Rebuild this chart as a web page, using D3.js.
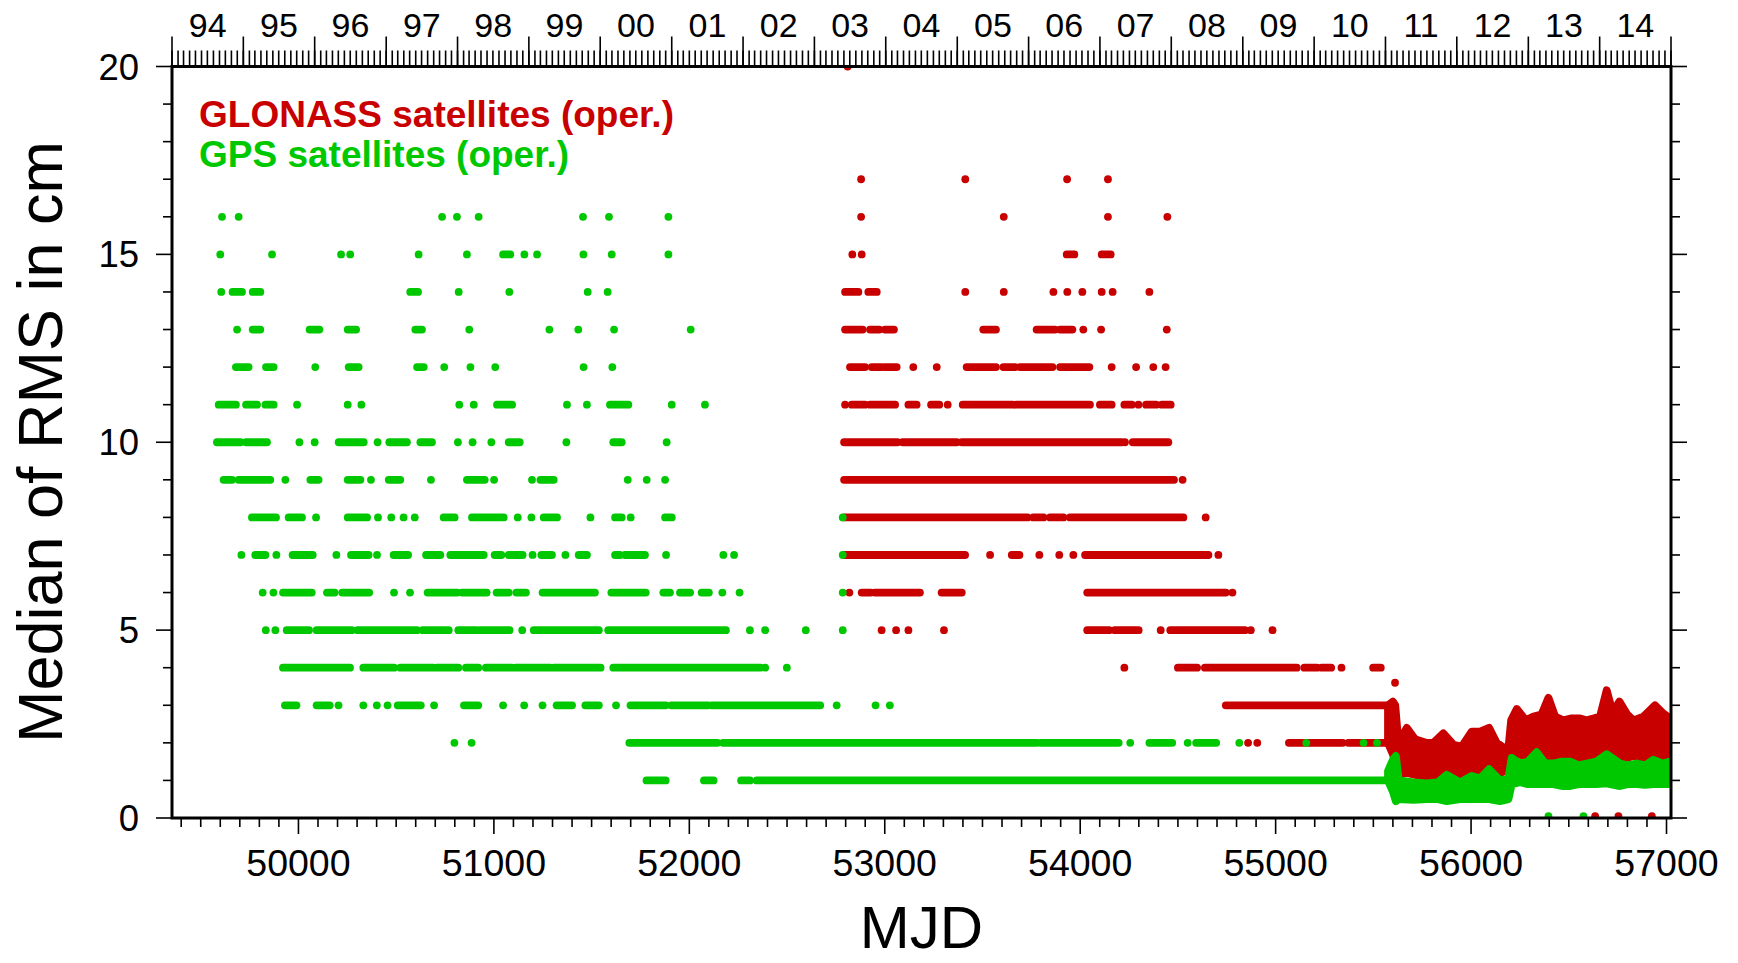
<!DOCTYPE html>
<html>
<head>
<meta charset="utf-8">
<script src="https://cdn.jsdelivr.net/npm/d3@7"></script>
<style>
body { margin: 0; background: #fff; }
text { font-family: "Liberation Sans", Arial, Helvetica, sans-serif; }
</style>
</head>
<body>
<script>
// median RMS levels (cm) and the MJDs where a dot sits; [a,b] = run of daily dots
const gpsLevels = [16, 15, 14, 13, 12, 11, 10, 9, 8, 7, 6, 5, 4, 3, 2, 1]
const gpsMjd = [
  [49609, 49694, 50735, 50811, 50922, 51456, 51589, 51893],
  [49600, 49865, 50218, 50265, 50615, 50862, [51047, 51084], 51156, 51221, 51458, 51603, 51893],
  [49605, [49663, 49711], [49766, 49805], [50572, 50612], 50820, 51079, 51480, 51582],
  [49686, [49766, 49805], [50057, 50107], [50252, 50295], [50598, 50632], 50874, 51284, 51432, 51615, 52007],
  [[49680, 49745], [49834, 49873], 50086, [50257, 50308], [50607, 50641], 50746, 50880, 51007, 51459, 51606],
  [[49592, 49680], [49732, 49788], [49831, 49873], 49993, 50252, 50322, 50823, 50897, [51016, 51093], 51374, 51476, [51594, 51688], 51910, 52080],
  [[49583, 49703], [49732, 49839], 50005, 50083, [50206, 50334], 50405, [50465, 50555], [50624, 50683], 50816, 50891, 50987, [51076, 51132], 51371, [51611, 51654], 51884],
  [[49617, 49660], [49694, 49856], 49933, [50061, 50103], [50252, 50317], 50371, [50462, 50521], 50678, [50862, 50953], 51001, 51195, [51238, 51306], 51685, 51782, 51876],
  [[49762, 49885], [49950, 50018], 50090, [50252, 50351], 50407, 50475, 50538, 50595, [50743, 50799], [50888, 51050], 51122, 51192, [51255, 51323], 51494, [51620, 51654], 51700, [51876, 51910], 52785],
  [49708, [49779, 49831], 49887, [49970, 50073], 50194, [50269, 50359], 50402, [50487, 50561], [50653, 50726], [50777, 50948], [51004, 51038], [51076, 51147], 51198, [51243, 51297], 51366, [51434, 51476], [51620, 51645], [51671, 51773], 51881, 52174, 52229, 52785],
  [49817, 49872, [49921, 50068], [50146, 50185], [50224, 50362], 50489, 50571, [50661, 50812], [50837, 50963], [51014, 51076], [51115, 51164], [51249, 51517], [51601, 51777], [51867, 51901], [51952, 52004], [52063, 52100], 52169, 52257, 52785],
  [49833, 49882, [49940, 50054], [50093, 50273], [50303, 50606], [50636, 50753], 50769, [50818, 50910], [50929, 51080], 51145, [51204, 51537], [51585, 51824], [51840, 52187], 52310, 52388, 52596, 52785],
  [[49921, 50264], [50332, 50489], [50522, 50689], [50708, 50818], [50857, 50920], [50959, 51092], [51112, 51288], [51307, 51546], [51611, 52365], 52388, 52499],
  [[49931, 49990], [50093, 50160], 50205, 50332, 50401, 50456, [50508, 50626], 50694, [50847, 50920], 51047, 51155, 51249, [51321, 51400], [51468, 51537], 51625, [51699, 51879], [51908, 52095], [52114, 52670], 52754, 52953, 53026],
  [50798, 50886, [51693, 52144], [52173, 53776], [53796, 54197], 54256, [54354, 54471], 54550, [54593, 54696], 54814, 55157, 55450, 55519],
  [[51781, 51879], [52075, 52124], [52265, 52310], [52345, 55590]]
]

const glonassLevels = [20, 17, 16, 15, 14, 13, 12, 11, 10, 9, 8, 7, 6, 5, 4, 3, 2]
const glonassMjd = [
  [52810],
  [52879, 53412, 53933, 54142],
  [52879, 53609, 54142, 54446],
  [52834, 52882, [53931, 53970], [54110, 54156]],
  [[52797, 52865], [52916, 52959], 53412, 53609, 53863, 53934, 54011, 54110, 54166, 54354],
  [[52797, 52887], [52925, 52972], [53001, 53047], [53504, 53569], [53777, 53871], [53897, 53960], 54016, 54107, 54443],
  [[52822, 52899], [52933, 52984], [53001, 53061], 53146, 53266, [53419, 53569], [53607, 53667], [53692, 53858], [53897, 54047], 54161, 54286, 54374, 54437],
  [52797, [52831, 52899], [52925, 53053], [53121, 53163], [53237, 53279], 53322, [53399, 53655], [53672, 54050], [54101, 54161], [54226, 54264], 54298, [54337, 54388], [54417, 54463]],
  [[52792, 53065], [53092, 53368], [53394, 54212], 54229, [54269, 54451]],
  [[52792, 54480], 54524],
  [[52792, 53730], [53760, 53812], [53846, 53914], [53948, 54528], 54642],
  [[52792, 53411], 53539, [53650, 53689], 53791, 53893, 53965, [54025, 54656], 54707],
  [52819, [52882, 52928], [52950, 53180], [53291, 53394], [54036, 54745], 54779],
  [52984, 53058, 53121, 53303, [54036, 54148], [54177, 54299], 54412, [54461, 54843], 54873, 54984],
  [54226, [54500, 54598], [54638, 55108], [55147, 55211], [55235, 55284], 55337, [55499, 55538]],
  [[54745, 55587]],
  [54859, 54906, [55068, 55343], [55372, 55568]]
]

// after mid-2011 the medians are no longer rounded: read as a lower/upper envelope
const glonassBandMjd = [55575, 55600, 55612, 55628, 55671, 55713, 55773, 55807, 55858, 55910, 55952, 56003, 56046, 56092, 56131, 56174, 56192, 56205, 56234, 56280, 56319, 56360, 56396, 56430, 56472, 56515, 56558, 56590, 56626, 56660, 56694, 56725, 56759, 56800, 56831, 56882, 56941, 56980, 57018]
const glonassBandLo = [2.0, 1.7, 1.5, 1.15, 1.2, 1.15, 1.1, 0.95, 1.1, 1.15, 1.0, 1.15, 1.2, 1.2, 1.15, 1.25, 1.3, 1.7, 1.7, 1.65, 1.6, 1.55, 1.55, 1.55, 1.5, 1.55, 1.6, 1.6, 1.6, 1.6, 1.75, 1.6, 1.5, 1.6, 1.65, 1.6, 1.65, 1.6, 1.6]
const glonassBandHi = [3.0, 3.1, 3.0, 2.0, 2.4, 2.1, 2.0, 2.0, 2.25, 1.95, 1.9, 2.3, 2.3, 2.4, 2.0, 1.85, 1.9, 2.6, 2.9, 2.6, 2.7, 2.75, 3.2, 2.7, 2.6, 2.65, 2.65, 2.6, 2.65, 2.7, 3.4, 2.8, 3.1, 2.75, 2.6, 2.7, 3.0, 2.8, 2.65]

const gpsBandMjd = [55575, 55600, 55615, 55630, 55705, 55773, 55830, 55876, 55944, 56003, 56046, 56092, 56148, 56191, 56208, 56251, 56290, 56336, 56380, 56421, 56465, 56507, 56550, 56592, 56640, 56694, 56762, 56800, 56848, 56890, 56933, 56980, 57018]
const gpsBandLo = [1.0, 0.7, 0.45, 0.5, 0.48, 0.5, 0.5, 0.45, 0.5, 0.5, 0.5, 0.5, 0.45, 0.5, 0.9, 0.95, 0.9, 0.9, 0.9, 0.9, 0.85, 0.85, 0.9, 0.9, 0.9, 0.92, 0.85, 0.9, 0.9, 0.88, 0.9, 0.9, 0.9]
const gpsBandHi = [1.25, 1.55, 1.65, 1.0, 0.95, 0.92, 0.95, 1.15, 0.95, 1.12, 1.05, 1.3, 1.0, 1.05, 1.6, 1.45, 1.5, 1.75, 1.45, 1.45, 1.5, 1.5, 1.4, 1.45, 1.5, 1.7, 1.45, 1.4, 1.45, 1.4, 1.55, 1.45, 1.5]

// isolated points (spike and the near-zero ones at the bottom)
const glonassExtra = [[55611, 3.6], [56635, 0.05], [56754, 0.05], [56925, 0.05]]
const gpsExtra = [[56396, 0.05], [56575, 0.05]]

const yearLabels = ["94", "95", "96", "97", "98", "99", "00", "01", "02", "03", "04", "05", "06", "07", "08", "09", "10", "11", "12", "13", "14"]
const mjdTicks = [50000, 51000, 52000, 53000, 54000, 55000, 56000, 57000]
const rmsTicks = [0, 5, 10, 15, 20]

var red = "#c80000"
var green = "#00c800"
var dotR = 3.9

var svg = d3.select("body")
        .append("svg")
        .attr("width", 1738)
        .attr("height", 963)

var xscale = d3.scaleLinear().domain([49353, 57023]).range([172, 1671])
var yscale = d3.scaleLinear().domain([0, 20]).range([818, 66.5])
var tscale = d3.scaleUtc()
        .domain([new Date(Date.UTC(1994, 0, 1)), new Date(Date.UTC(2015, 0, 1))])
        .range([172, 1671])

svg.append("clipPath").attr("id", "plotclip")
   .append("rect")
   .attr("x", 172).attr("y", 66.5).attr("width", 1499).attr("height", 751.5)

var plot = svg.append("g").attr("clip-path", "url(#plotclip)")

function drawRows(levels, rows, color) {
    var g = plot.append("g")
    levels.forEach((lev, i) => {
        var runs = rows[i].filter(d => Array.isArray(d))
        var singles = rows[i].filter(d => !Array.isArray(d))
        g.selectAll(null).data(runs).enter()
         .append("line")
         .attr("x1", d => xscale(d[0]))
         .attr("x2", d => xscale(d[1]))
         .attr("y1", yscale(lev))
         .attr("y2", yscale(lev))
         .attr("stroke", color)
         .attr("stroke-width", dotR * 2)
         .attr("stroke-linecap", "round")
        g.selectAll(null).data(singles).enter()
         .append("circle")
         .attr("cx", d => xscale(d))
         .attr("cy", yscale(lev))
         .attr("r", dotR)
         .attr("fill", color)
    })
}

function drawBand(mjd, lo, hi, extra, color) {
    var area = d3.area()
        .x(i => xscale(mjd[i]))
        .y0(i => yscale(lo[i]))
        .y1(i => yscale(hi[i]))
    plot.append("path")
        .attr("d", area(d3.range(mjd.length)))
        .attr("fill", color)
        .attr("stroke", color)
        .attr("stroke-width", dotR * 2)
        .attr("stroke-linejoin", "round")
    plot.append("g").selectAll("circle")
        .data(extra).enter()
        .append("circle")
        .attr("cx", d => xscale(d[0]))
        .attr("cy", d => yscale(d[1]))
        .attr("r", dotR)
        .attr("fill", color)
}

// GLONASS first, GPS drawn on top
drawRows(glonassLevels, glonassMjd, red)
drawBand(glonassBandMjd, glonassBandLo, glonassBandHi, glonassExtra, red)
drawRows(gpsLevels, gpsMjd, green)
drawBand(gpsBandMjd, gpsBandLo, gpsBandHi, gpsExtra, green)

// axes
var axes = svg.append("g").attr("stroke", "#000").attr("stroke-width", 1.6)

var minorX = d3.range(49400, 57001, 100).filter(d => d % 1000 != 0)
axes.selectAll(null).data(minorX).enter().append("line")
    .attr("x1", d => xscale(d)).attr("x2", d => xscale(d))
    .attr("y1", 818).attr("y2", 827)
axes.selectAll(null).data(mjdTicks).enter().append("line")
    .attr("x1", d => xscale(d)).attr("x2", d => xscale(d))
    .attr("y1", 818).attr("y2", 834)

var minorY = d3.range(1, 20).filter(d => d % 5 != 0)
;[[172, -1], [1671, 1]].forEach(s => {
    axes.selectAll(null).data(minorY).enter().append("line")
        .attr("x1", s[0]).attr("x2", s[0] + s[1] * 9)
        .attr("y1", d => yscale(d)).attr("y2", d => yscale(d))
    axes.selectAll(null).data(rmsTicks).enter().append("line")
        .attr("x1", s[0]).attr("x2", s[0] + s[1] * 16)
        .attr("y1", d => yscale(d)).attr("y2", d => yscale(d))
})

// top: years (long) and months (short)
axes.selectAll(null).data(tscale.ticks(d3.utcMonth.every(1))).enter().append("line")
    .attr("x1", d => tscale(d)).attr("x2", d => tscale(d))
    .attr("y1", 66.5).attr("y2", 50.5)
axes.selectAll(null).data(d3.utcYears(new Date(Date.UTC(1994, 0, 1)), new Date(Date.UTC(2015, 0, 2)))).enter().append("line")
    .attr("x1", d => tscale(d)).attr("x2", d => tscale(d))
    .attr("y1", 66.5).attr("y2", 36.5)

svg.append("rect")
   .attr("x", 172).attr("y", 66.5).attr("width", 1499).attr("height", 751.5)
   .attr("fill", "none").attr("stroke", "#000").attr("stroke-width", 3)

// tick labels
svg.append("g").selectAll("text")
   .data(mjdTicks).enter().append("text")
   .attr("x", d => xscale(d)).attr("y", 876)
   .attr("text-anchor", "middle").attr("font-size", 37.5)
   .text(d => d)

svg.append("g").selectAll("text")
   .data(rmsTicks).enter().append("text")
   .attr("x", 139).attr("y", d => yscale(d) + 13)
   .attr("text-anchor", "end").attr("font-size", 36.5)
   .text(d => d)

svg.append("g").selectAll("text")
   .data(yearLabels).enter().append("text")
   .attr("x", (d, i) => (tscale(new Date(Date.UTC(1994 + i, 0, 1))) + tscale(new Date(Date.UTC(1995 + i, 0, 1)))) / 2)
   .attr("y", 37)
   .attr("text-anchor", "middle").attr("font-size", 34)
   .text(d => d)

// titles
svg.append("text")
   .attr("x", 921.5).attr("y", 948)
   .attr("text-anchor", "middle").attr("font-size", 60)
   .text("MJD")

svg.append("text")
   .attr("transform", "translate(62,442) rotate(-90)")
   .attr("text-anchor", "middle").attr("font-size", 63)
   .text("Median of RMS in cm")

// legend
svg.append("text")
   .attr("x", 199).attr("y", 127)
   .attr("font-size", 37).attr("font-weight", "bold").attr("fill", red)
   .text("GLONASS satellites (oper.)")
svg.append("text")
   .attr("x", 199).attr("y", 167)
   .attr("font-size", 37).attr("font-weight", "bold").attr("fill", green)
   .text("GPS satellites (oper.)")
</script>
</body>
</html>
